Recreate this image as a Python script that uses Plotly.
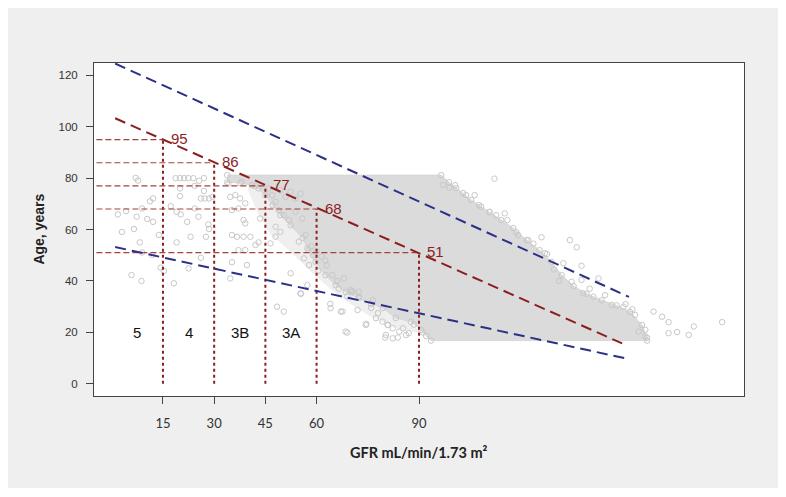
import plotly.graph_objects as go

# ---------------- data ----------------
# dense core of the scatter cloud (outline of overlapping circles), GFR / age
cloud_x = [33.8, 96.5, 98.8, 100.9, 102.9, 105.3, 107.6, 110.6, 114.1, 117.6, 121.5, 125.3,
           128.8, 131.8, 135.3, 139.1, 143.5, 147.9, 151.8, 155.3, 156.8, 156.8, 93.5,
           92.1, 90.6, 87.6, 83.2, 79.4, 75.9, 72.4, 68.5, 65.6, 62.6, 59.7, 57.6, 55.9,
           52.4, 49.4, 47.1, 45.0, 42.0, 37.6, 33.8]
cloud_y = [81.2, 81.2, 78.4, 76.1, 74.2, 71.5, 69.5, 66.8, 63.7, 60.6, 55.9, 52.0,
           47.4, 42.3, 38.0, 35.0, 32.5, 30.5, 28.0, 22.9, 17.9, 16.8, 16.8,
           18.6, 21.0, 24.1, 25.6, 29.5, 31.1, 33.4, 35.7, 38.4, 42.3, 47.4, 52.0, 56.7,
           61.7, 65.6, 69.5, 73.4, 76.9, 78.1, 78.4]

# thinner halo of circles around the core (stages 3B/3A and the lower-left fringe)
halo_x = [40.0, 60.0, 64.0, 70.0, 78.0, 86.0, 92.0, 84.0, 76.0, 70.0, 64.0, 58.0, 55.0,
          51.0, 46.5, 43.0, 40.0]
halo_y = [79.5, 79.5, 45.0, 38.0, 31.0, 25.0, 19.0, 21.5, 26.0, 31.0, 37.0, 44.0, 48.0,
          53.0, 58.0, 66.0, 75.0]

# individual patients visible outside / at the edge of the dense core
pts_x = [7, 7.7, 18.7, 20, 21.2, 22.4, 23.9, 25.6, 27, 20, 24.3, 27, 20, 26.1, 27.2, 28.5, 29.5,
         11.2, 12.1, 1.8, 4.2, 7.3, 8.9, 10.4, 12.1, 17.3, 19, 20.2, 22.1, 24.3, 25.4, 3, 6.5,
         13.8, 8.2, 8.9, 11.9, 14.3, 15.3, 19, 23.1, 27.6, 28.3, 28.5, 22.5, 26.1, 5.8, 8.7, 18.2,
         34.7, 36.2, 37.6, 39.1, 35.2, 37.1, 38.6, 39.1, 43.5, 35.2, 36.7, 38.6, 40.6, 42.1, 43,
         37.1, 39.1, 35.2, 39.6, 34.7, 34.2, 38.1, 41.1, 43,
         46.5, 48, 52.4, 48.4, 50.4, 55.3, 57.3, 68.5, 64.1, 67.1, 70, 70.3, 64.6, 68,
         46, 47, 48, 49.4, 50.9, 52.4, 53.8, 55.3, 48.9, 50.4, 51.9, 53.8, 55.8, 48, 49.4,
         56.8, 54.8, 57.3, 56.3, 57.8,
         72.4, 72.4, 74.4, 77.4, 79.3, 80.8, 82.3, 84.2, 86.2, 80.3, 82.3, 69, 74.6, 64, 67.6,
         72, 80.1, 83.8, 87, 80.9, 85.3, 55.4,
         112.1, 97, 98.9, 100.6, 103.8, 106.3, 108.2, 110.7, 112.6, 115.1, 115.9, 119, 122,
         125.9, 134.2, 136.2, 126.9, 132.3, 137.6, 134.7, 137.6, 142.6, 138.1, 141.1, 146.5,
         149.9, 153.3, 158.7, 161.2, 163.1, 170.5, 178.8, 156.3, 156.3, 154.3, 163.1, 165.6, 169,
         61.5, 63.0, 60.5, 66.0, 70.5, 76.5, 78.0, 88.5, 91.0, 60.0, 62.5, 58.5, 59.0, 66.5,
         69.0, 76.0, 129.5, 131.0, 140.0, 144.5, 150.5, 152.5, 118.5, 123.5, 127.5]
pts_y = [80.1, 79.1, 80, 80, 80, 80, 80, 79, 80, 76, 77, 75, 73, 72.1, 72.1, 72.1, 72.7,
         71, 72.1, 65.9, 67.2, 65, 68.2, 64.1, 63, 69.1, 66.9, 65.9, 63, 68.2, 65, 59.1, 60.2,
         57.9, 55, 51.1, 50.1, 45.2, 43.9, 55, 57.2, 57.2, 62, 60.2, 44.9, 49, 42.3, 40, 39.1,
         72.7, 73.4, 72.1, 70.2, 67.6, 68.2, 63.7, 62.4, 64.3, 57.9, 57.2, 57.2, 57.2, 54, 55,
         52, 52, 47.3, 46.2, 41, 77.9, 78.6, 77.3, 76,
         54.6, 57.2, 43, 30, 28.1, 35.2, 38.4, 20.3, 29.4, 28.1, 36.5, 35.8, 42.3, 41,
         76, 73.4, 70.8, 75.3, 72.7, 74.7, 72.1, 74, 67.6, 65.6, 63.7, 66.9, 64.3, 61.1, 59.1,
         57.9, 55.3, 52.7, 48.8, 46.2,
         35.8, 33.9, 22.9, 25.5, 24.2, 22.9, 21.6, 20.3, 19, 19, 17.7, 19.9, 23.3, 31.1, 28.1,
         28.7, 18, 18, 19.7, 22.9, 21.6, 35,
         79.8, 77.3, 76.3, 77.3, 73.4, 73.4, 68.9, 66.9, 65.6, 66.3, 63.7, 57.9, 55.9,
         57, 55.9, 53.1, 50.8, 46.9, 45.9, 39.7, 40.4, 41, 35.2, 33.9, 30.7,
         30, 26.8, 28.1, 26.1, 24, 22.3, 24, 21, 18.4, 20.3, 19.7, 20.1, 19,
         49.5, 46.0, 44.0, 40.0, 36.0, 32.5, 27.5, 23.0, 20.0, 51.5, 48.0, 53.5, 50.0, 37.0,
         34.0, 29.5, 44.5, 40.0, 37.0, 34.5, 31.0, 29.0, 59.0, 54.5, 50.5]

# regression line and prediction band (end points)
fit_x = [1, 149.5]
fit_y = [103.3, 15.7]
upper_x = [1, 151.5]
upper_y = [124.6, 33.8]
lower_x = [1, 151.5]
lower_y = [53.2, 9.6]

# CKD stage thresholds and the age
thr_gfr = [15, 30, 45, 60, 90]
thr_age = [95, 86, 77, 68, 51]
thr_labels = ["95", "86", "77", "68", "51"]

stage_names = ["5", "4", "3B", "3A"]
stage_x = [7.5, 22.5, 37.5, 52.5]
stage_y = [20, 20, 20, 20]

x_ticks = [15, 30, 45, 60, 90]
y_ticks = [0, 20, 40, 60, 80, 100, 120]
x_range = [-5.2, 185.2]
y_range = [-4.75, 124.8]
guide_start = -4.5

# ---------------- styles ----------------
RED = "#8b1f1f"
GUIDE = "#a0453d"
BLUE = "#2c2f86"
CLOUD_FILL = "#dbdbdb"
HALO_FILL = "#efefef"
CIRCLE = "#c8c8c8"
GRAY_BG = "#eeefee"

fig = go.Figure()

fig.add_trace(go.Scatter(x=halo_x, y=halo_y, mode="lines", fill="toself",
                         fillcolor=HALO_FILL, line=dict(width=0),
                         hoverinfo="skip", showlegend=False))
fig.add_trace(go.Scatter(x=cloud_x, y=cloud_y, mode="lines+markers", fill="toself",
                         fillcolor=CLOUD_FILL, line=dict(width=0.8, color="#d2d2d2"),
                         marker=dict(symbol="circle-open", size=5.5, color=CIRCLE,
                                     line=dict(width=1, color=CIRCLE)),
                         hoverinfo="skip", showlegend=False))
fig.add_trace(go.Scatter(x=pts_x, y=pts_y, mode="markers",
                         marker=dict(symbol="circle-open", size=5.5, color=CIRCLE,
                                     line=dict(width=1, color=CIRCLE)),
                         showlegend=False))

# guide lines to the thresholds
for g, a in zip(thr_gfr, thr_age):
    fig.add_trace(go.Scatter(x=[guide_start, g], y=[a, a], mode="lines",
                             line=dict(color=GUIDE, width=1.2, dash="6px,3px"),
                             hoverinfo="skip", showlegend=False))
    fig.add_trace(go.Scatter(x=[g, g], y=[0, a], mode="lines",
                             line=dict(color=RED, width=2, dash="3px,3px"),
                             hoverinfo="skip", showlegend=False))

fig.add_trace(go.Scatter(x=upper_x, y=upper_y, mode="lines",
                         line=dict(color=BLUE, width=2, dash="11px,6px"), showlegend=False))
fig.add_trace(go.Scatter(x=lower_x, y=lower_y, mode="lines",
                         line=dict(color=BLUE, width=2, dash="11px,6px"), showlegend=False))
fig.add_trace(go.Scatter(x=fit_x, y=fit_y, mode="lines",
                         line=dict(color=RED, width=2, dash="11px,6px"), showlegend=False))

annotations = []
for g, a, t in zip(thr_gfr, thr_age, thr_labels):
    annotations.append(dict(x=g, y=a, xref="x", yref="y", text=t, showarrow=False,
                            xanchor="left", yanchor="middle", xshift=6, yshift=1,
                            font=dict(family="Liberation Sans Narrow, Arial Narrow, sans-serif",
                                      size=15, color=RED)))
for sx, sy, s in zip(stage_x, stage_y, stage_names):
    annotations.append(dict(x=sx, y=sy, xref="x", yref="y", text=s, showarrow=False,
                            xanchor="center", yanchor="middle",
                            font=dict(family="Liberation Sans Narrow, Arial Narrow, sans-serif",
                                      size=15, color="#111")))
annotations.append(dict(x=0.5, y=-0.17, xref="paper", yref="paper",
                        text="GFR mL/min/1.73 m²", showarrow=False,
                        xanchor="center", yanchor="middle",
                        font=dict(family="Lato, sans-serif", size=14.5, color="#222", weight="bold")))
annotations.append(dict(x=-0.086, y=0.5, xref="paper", yref="paper",
                        text="Age, years", showarrow=False, textangle=-90,
                        xanchor="center", yanchor="middle",
                        font=dict(family="Liberation Sans, Arial, sans-serif", size=14,
                                  color="#222", weight="bold")))

shapes = [
    dict(type="rect", xref="paper", yref="paper", x0=-0.1331, x1=1.0554, y0=-0.276, y1=1.1662,
         fillcolor=GRAY_BG, line=dict(width=0), layer="below"),
    dict(type="rect", xref="paper", yref="paper", x0=0, x1=1, y0=0, y1=1,
         fillcolor="white", line=dict(width=0), layer="below"),
]

# the page adds an 8px body margin, so the figure is 8px smaller than the window
fig.update_layout(
    width=778, height=489,
    margin=dict(l=86, r=42, t=55, b=101),
    paper_bgcolor="white", plot_bgcolor="white",
    showlegend=False,
    annotations=annotations, shapes=shapes,
    xaxis=dict(range=x_range, tickvals=x_ticks, ticktext=[str(v) for v in x_ticks],
               ticks="outside", ticklen=7, tickcolor="#444", tickwidth=1,
               showline=True, mirror=True, linecolor="#444", linewidth=1,
               showgrid=False, zeroline=False, ticklabelstandoff=8,
               tickfont=dict(family="Lato, sans-serif", size=13, color="#333")),
    yaxis=dict(range=y_range, tickvals=y_ticks, ticktext=[str(v) for v in y_ticks],
               ticks="outside", ticklen=7, tickcolor="#444", tickwidth=1,
               showline=True, mirror=True, linecolor="#444", linewidth=1,
               showgrid=False, zeroline=False, ticklabelstandoff=6,
               tickfont=dict(family="Liberation Sans, Arial, sans-serif", size=11.5, color="#333")),
)

fig.write_html("out.html")
